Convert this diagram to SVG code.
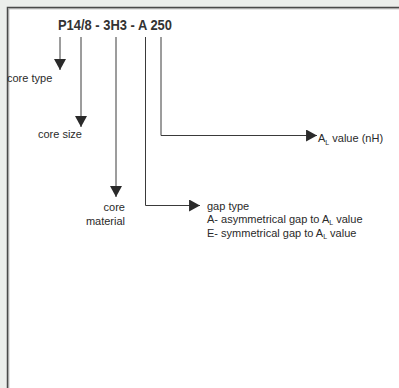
<svg xmlns="http://www.w3.org/2000/svg" width="399" height="388" viewBox="0 0 399 388">
<style>
text{font-family:"Liberation Sans",Arial,sans-serif;font-size:11px;fill:#2a2a2a}
.title{font-size:14px;font-weight:bold;fill:#333}
.ln{fill:none;stroke:#3a3a3a;stroke-width:1}
.sub{font-size:7px}
</style>
<defs>
<marker id="ah" markerUnits="userSpaceOnUse" markerWidth="12" markerHeight="12" viewBox="0 0 10 11" refX="10" refY="5.5" orient="auto">
<path d="M0,0 L10,5.5 L0,11 Z" fill="#2a2a2a"/>
</marker>
</defs>
<rect x="0" y="0" width="399" height="388" fill="#eceeec"/>
<rect x="7" y="7" width="392" height="381" fill="#fff"/>
<path d="M7.5,388 V7.5 H399" fill="none" stroke="#4a4a4a" stroke-width="1.5"/>
<path d="M8.75,388 V8.75 H399" fill="none" stroke="#9a9a9a" stroke-width="1"/>
<g id="title"><text class="title" x="58" y="30" textLength="114" lengthAdjust="spacingAndGlyphs">P14/8 - 3H3 - A 250</text></g>
<g id="connectors">
<path class="ln" d="M60,37 V70" marker-end="url(#ah)"/>
<path class="ln" d="M81,37 V127" marker-end="url(#ah)"/>
<path class="ln" d="M116,37 V197" marker-end="url(#ah)"/>
<path class="ln" d="M145.5,37 V205.5 H200" marker-end="url(#ah)"/>
<path class="ln" d="M161,37 V135.5 H317" marker-end="url(#ah)"/>
</g>
<g id="core-type"><text x="7" y="82">core type</text></g>
<g id="core-size"><text x="82" y="138" text-anchor="end">core size</text></g>
<g id="core-material"><text x="125" y="211" text-anchor="end">core</text><text x="125" y="225" text-anchor="end">material</text></g>
<g id="al-value"><text x="318" y="142">A<tspan class="sub" dy="2.5">L</tspan><tspan dy="-2.5"> value (nH)</tspan></text></g>
<g id="gap-type">
<text x="207" y="210">gap type</text>
<text x="207" y="223">A- asymmetrical gap to A<tspan class="sub" dy="2">L</tspan><tspan dy="-2"> value</tspan></text>
<text x="207" y="236.5">E- symmetrical gap to A<tspan class="sub" dy="2">L</tspan><tspan dy="-2"> value</tspan></text>
</g>
</svg>
